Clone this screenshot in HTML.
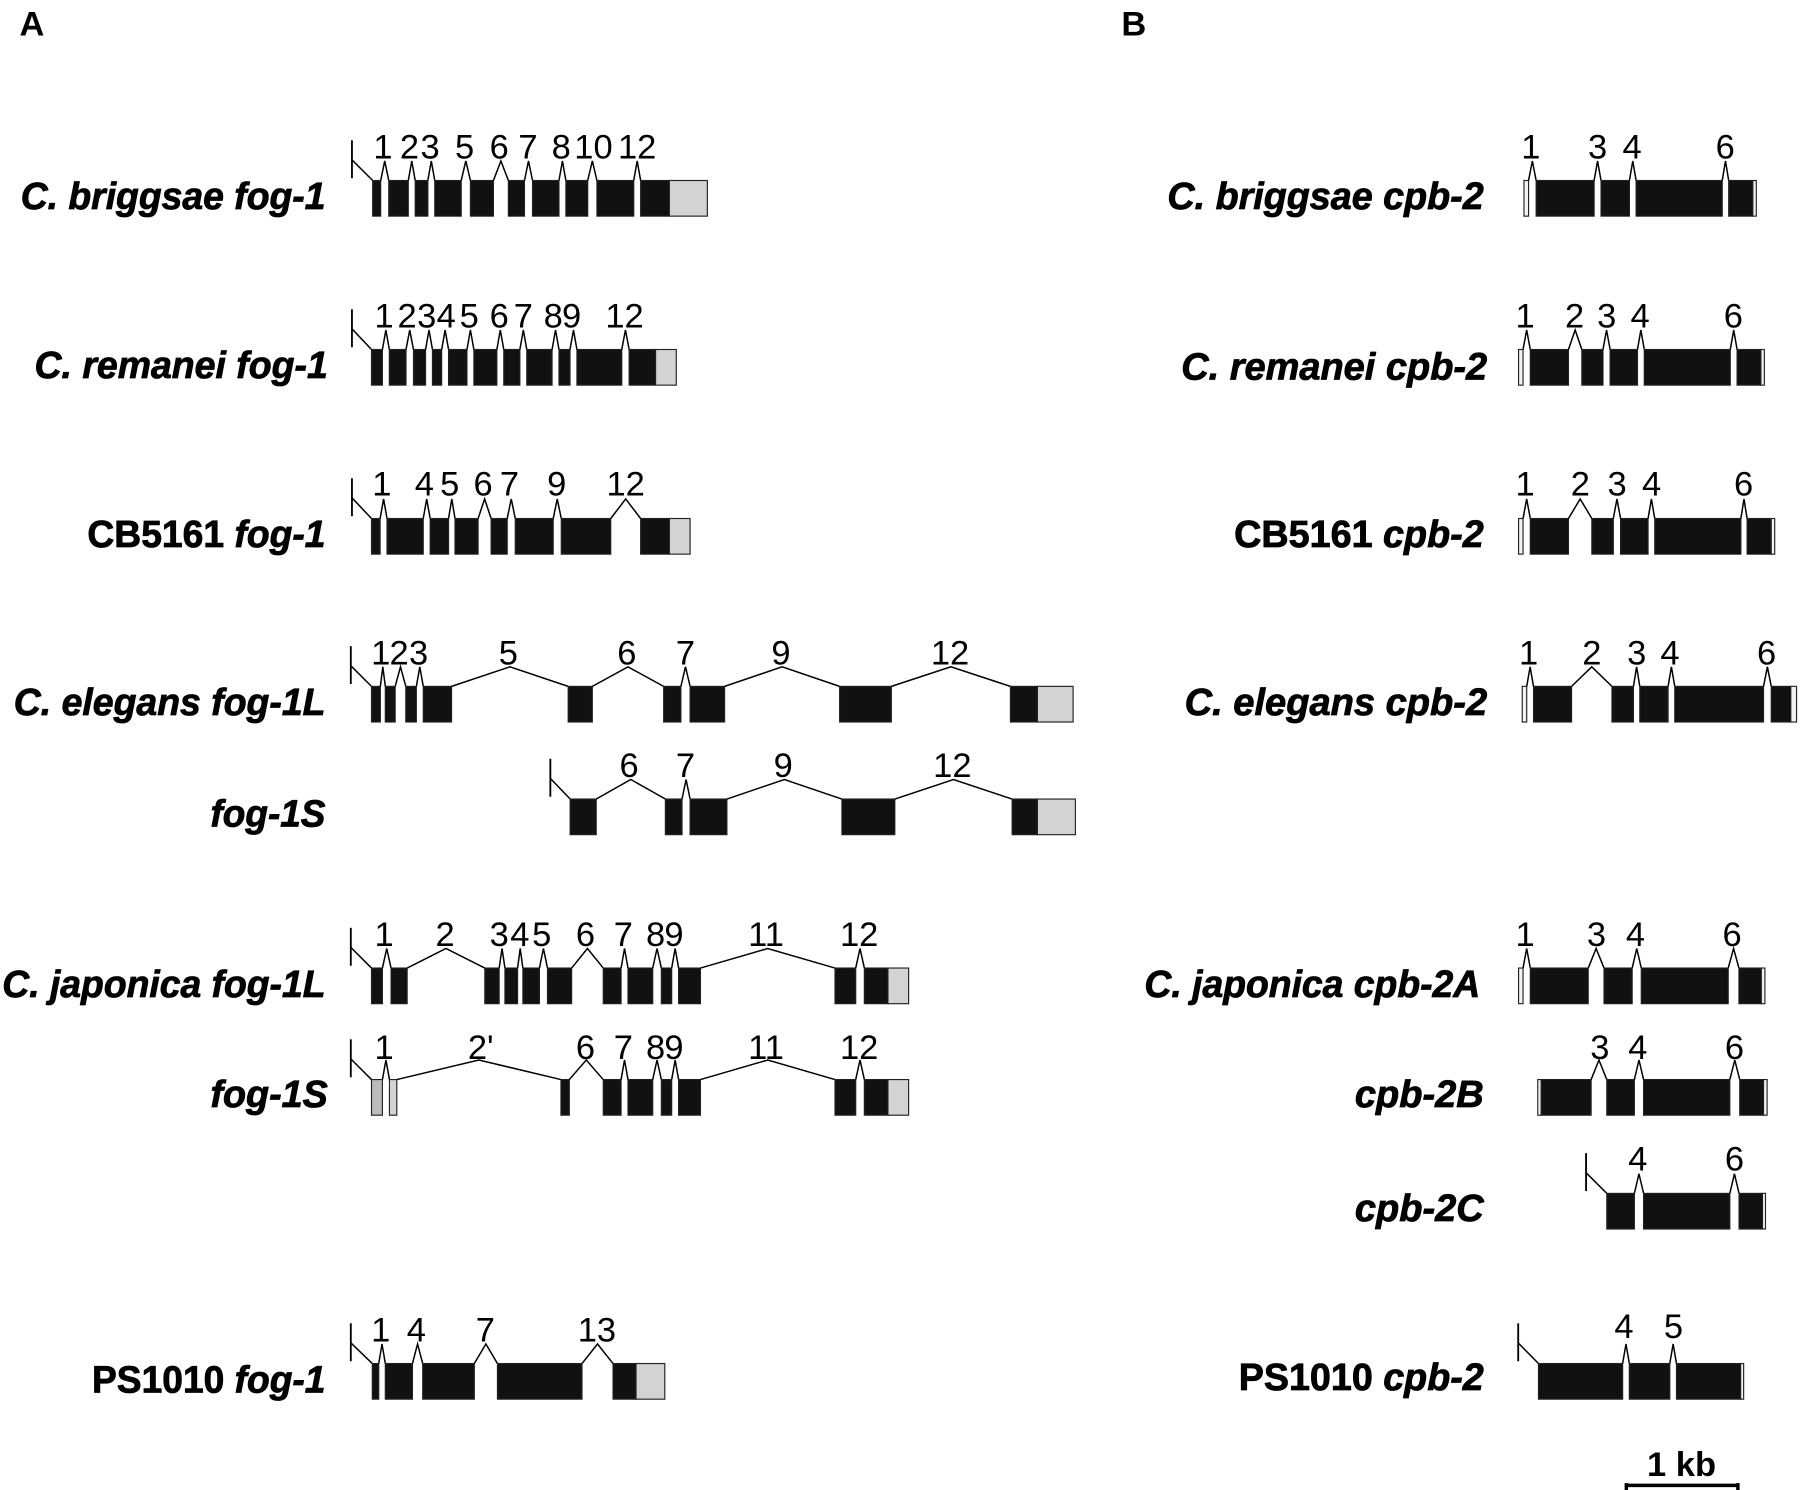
<!DOCTYPE html>
<html><head><meta charset="utf-8"><style>
html,body{margin:0;padding:0;background:#fff;}
svg{display:block;}
.n{font-family:"Liberation Sans",sans-serif;font-size:30px;text-anchor:middle;fill:#000;}
.g{font-family:"Liberation Sans",sans-serif;font-size:33px;font-weight:bold;text-anchor:end;fill:#000;stroke:#000;stroke-width:0.7;}
.i{font-style:italic;}
.p{font-family:"Liberation Sans",sans-serif;font-size:30px;font-weight:bold;fill:#000;}
</style></head><body>
<svg id="s" width="1800" height="1490" viewBox="0 0 1565 1296" preserveAspectRatio="none" xmlns="http://www.w3.org/2000/svg">
<text class="p" x="17" y="31">A</text>
<text class="p" x="975" y="31">B</text>

<text class="g i" x="283" y="182" textLength="265" lengthAdjust="spacingAndGlyphs">C. briggsae fog-1</text>
<text class="g i" x="285" y="329" textLength="255" lengthAdjust="spacingAndGlyphs">C. remanei fog-1</text>
<text class="g" x="283" y="476" textLength="207" lengthAdjust="spacingAndGlyphs">CB5161 <tspan class="i">fog-1</tspan></text>
<text class="g i" x="283" y="622" textLength="271" lengthAdjust="spacingAndGlyphs">C. elegans fog-1L</text>
<text class="g i" x="283" y="719" textLength="100" lengthAdjust="spacingAndGlyphs">fog-1S</text>
<text class="g i" x="283" y="867" textLength="281" lengthAdjust="spacingAndGlyphs">C. japonica fog-1L</text>
<text class="g i" x="285" y="963" textLength="102" lengthAdjust="spacingAndGlyphs">fog-1S</text>
<text class="g" x="283" y="1211" textLength="203" lengthAdjust="spacingAndGlyphs">PS1010 <tspan class="i">fog-1</tspan></text>

<text class="g i" x="1290" y="182" textLength="275" lengthAdjust="spacingAndGlyphs">C. briggsae cpb-2</text>
<text class="g i" x="1293" y="330" textLength="266" lengthAdjust="spacingAndGlyphs">C. remanei cpb-2</text>
<text class="g" x="1290" y="476" textLength="217" lengthAdjust="spacingAndGlyphs">CB5161 <tspan class="i">cpb-2</tspan></text>
<text class="g i" x="1293" y="622" textLength="263" lengthAdjust="spacingAndGlyphs">C. elegans cpb-2</text>
<text class="g i" x="1287" y="867" textLength="292" lengthAdjust="spacingAndGlyphs">C. japonica cpb-2A</text>
<text class="g i" x="1290" y="963" textLength="112" lengthAdjust="spacingAndGlyphs">cpb-2B</text>
<text class="g i" x="1290" y="1062" textLength="112" lengthAdjust="spacingAndGlyphs">cpb-2C</text>
<text class="g" x="1290" y="1209" textLength="213" lengthAdjust="spacingAndGlyphs">PS1010 <tspan class="i">cpb-2</tspan></text>

<text class="n" x="333" y="138">1</text><text class="n" x="356" y="138">2</text><text class="n" x="374" y="138">3</text><text class="n" x="404" y="138">5</text><text class="n" x="434" y="138">6</text><text class="n" x="459" y="138">7</text><text class="n" x="488" y="138">8</text><text class="n" x="516" y="138">10</text><text class="n" x="554" y="138">12</text>
<text class="n" x="334" y="285">1</text><text class="n" x="354" y="285">2</text><text class="n" x="371" y="285">3</text><text class="n" x="388" y="285">4</text><text class="n" x="408" y="285">5</text><text class="n" x="434" y="285">6</text><text class="n" x="455" y="285">7</text><text class="n" x="481" y="285">8</text><text class="n" x="497" y="285">9</text><text class="n" x="543" y="285">12</text>
<text class="n" x="332" y="431">1</text><text class="n" x="369" y="431">4</text><text class="n" x="391" y="431">5</text><text class="n" x="420" y="431">6</text><text class="n" x="443" y="431">7</text><text class="n" x="484" y="431">9</text><text class="n" x="544" y="431">12</text>
<text class="n" x="331" y="578">1</text><text class="n" x="347" y="578">2</text><text class="n" x="364" y="578">3</text><text class="n" x="442" y="578">5</text><text class="n" x="545" y="578">6</text><text class="n" x="596" y="578">7</text><text class="n" x="679" y="578">9</text><text class="n" x="826" y="578">12</text>
<text class="n" x="547" y="676">6</text><text class="n" x="596" y="676">7</text><text class="n" x="681" y="676">9</text><text class="n" x="828" y="676">12</text>
<text class="n" x="334" y="823">1</text><text class="n" x="387" y="823">2</text><text class="n" x="434" y="823">3</text><text class="n" x="452" y="823">4</text><text class="n" x="471" y="823">5</text><text class="n" x="509" y="823">6</text><text class="n" x="542" y="823">7</text><text class="n" x="570" y="823">8</text><text class="n" x="586" y="823">9</text><text class="n" x="666" y="823">11</text><text class="n" x="747" y="823">12</text>
<text class="n" x="334" y="921">1</text><text class="n" x="418" y="921">2'</text><text class="n" x="509" y="921">6</text><text class="n" x="542" y="921">7</text><text class="n" x="570" y="921">8</text><text class="n" x="586" y="921">9</text><text class="n" x="666" y="921">11</text><text class="n" x="747" y="921">12</text>
<text class="n" x="331" y="1167">1</text><text class="n" x="362" y="1167">4</text><text class="n" x="422" y="1167">7</text><text class="n" x="519" y="1167">13</text>

<text class="n" x="1331" y="138">1</text><text class="n" x="1389" y="138">3</text><text class="n" x="1419" y="138">4</text><text class="n" x="1500" y="138">6</text>
<text class="n" x="1326" y="285">1</text><text class="n" x="1369" y="285">2</text><text class="n" x="1397" y="285">3</text><text class="n" x="1426" y="285">4</text><text class="n" x="1507" y="285">6</text>
<text class="n" x="1326" y="431">1</text><text class="n" x="1374" y="431">2</text><text class="n" x="1406" y="431">3</text><text class="n" x="1436" y="431">4</text><text class="n" x="1516" y="431">6</text>
<text class="n" x="1329" y="578">1</text><text class="n" x="1384" y="578">2</text><text class="n" x="1423" y="578">3</text><text class="n" x="1452" y="578">4</text><text class="n" x="1536" y="578">6</text>
<text class="n" x="1326" y="823">1</text><text class="n" x="1388" y="823">3</text><text class="n" x="1422" y="823">4</text><text class="n" x="1506" y="823">6</text>
<text class="n" x="1391" y="921">3</text><text class="n" x="1424" y="921">4</text><text class="n" x="1508" y="921">6</text>
<text class="n" x="1424" y="1018">4</text><text class="n" x="1508" y="1018">6</text>
<text class="n" x="1412" y="1164">4</text><text class="n" x="1455" y="1164">5</text>

<text class="p" x="1462" y="1284" text-anchor="middle">1 kb</text>
<line x1="1413" y1="1292" x2="1512" y2="1292" stroke="#000" stroke-width="3"/>
<line x1="1414" y1="1290" x2="1414" y2="1300" stroke="#000" stroke-width="3"/>
<line x1="1511" y1="1290" x2="1511" y2="1300" stroke="#000" stroke-width="3"/>
<g id="gg"></g>
</svg>
<script>
var B='#111',G='#d3d3d3',W='#f2f2f2';
var rows=[
{t:157,tick:306,ex:[[[324,331]],[[338,355]],[[361,372]],[[378,401]],[[409,429]],[[442,456]],[[463,486]],[[492,511]],[[519,551]],[[557,582],[582,615,G]]]},
{t:304,tick:306,ex:[[[323,332.5]],[[338.5,353]],[[359.5,370]],[[376,384]],[[390,406]],[[412,432]],[[438,452]],[[458,480]],[[486,495.6]],[[501.6,540.6]],[[547,570],[570,588,G]]]},
{t:451,tick:306,ex:[[[323,330.5]],[[336.5,368]],[[374,390]],[[395.6,415.7]],[[427,441]],[[448,481]],[[488,531]],[[557,582],[582,600,G]]]},
{t:597,tick:305,ex:[[[323,330.7]],[[335,343.6]],[[352.8,362]],[[368,392.6]],[[494,515]],[[577,592]],[[600,630]],[[730,775]],[[878.5,902],[902,933,G]]]},
{t:695,tick:478.5,ex:[[[495.7,518.4]],[[578.5,593]],[[600,632]],[[732,778]],[[880,902],[902,935,G]]]},
{t:842,tick:305,ex:[[[323,332.5]],[[340,354]],[[421.5,434]],[[439,450]],[[454.6,469]],[[476,497]],[[524.5,540]],[[546,567.5]],[[575,584]],[[590,609]],[[726,744]],[[751.5,772],[772,790,G]]]},
{t:939,tick:305,ex:[[[323,332.5,'#bbb']],[[338.6,345,G]],[[487.7,495]],[[524.5,540]],[[546,567.5]],[[575,584]],[[590,609]],[[726,744]],[[751.5,772],[772,790,G]]]},
{t:1186,tick:305,ex:[[[323.7,329.3]],[[335,358.6]],[[367.5,412.4]],[[432.5,506]],[[533,553],[553,578,G]]]},
{t:157,ex:[[[1325,1329,W]],[[1335.6,1386]],[[1392,1416.7]],[[1422.5,1497.4]],[[1503,1524],[1524,1527,W]]]},
{t:304,ex:[[[1320.3,1324.2,W]],[[1330.5,1363.7]],[[1375.3,1393.7]],[[1399.9,1423.7]],[[1429.6,1504.4]],[[1510.3,1531],[1531,1534,W]]]},
{t:451,ex:[[[1320.3,1324.2,W]],[[1330.5,1363.7]],[[1384,1402.7]],[[1409,1432.9]],[[1438.7,1513.6]],[[1519,1540],[1540,1543,W]]]},
{t:597,ex:[[[1323.5,1327.4,W]],[[1333.3,1366.4]],[[1401.5,1420.2]],[[1425.7,1450.3]],[[1456.1,1533.3]],[[1540,1557],[1557,1562,W]]]},
{t:842,ex:[[[1320.3,1324.2,W]],[[1330.5,1380.9]],[[1394.6,1419.1]],[[1427,1502.6]],[[1511.9,1531.4],[1531.4,1534.5,W]]]},
{t:939,ex:[[[1337,1340,W],[1340,1383.4]],[[1397,1421]],[[1429,1504]],[[1512.6,1533.3],[1533.3,1536.4,W]]]},
{t:1038,tick:1379,ex:[[[1397,1421]],[[1429,1504]],[[1512,1532.4],[1532.4,1535,W]]]},
{t:1186,tick:1320,ex:[[[1337.6,1410.8]],[[1416.6,1451.8]],[[1457.6,1513.4],[1513.4,1516,W]]]}
];
var ns='http://www.w3.org/2000/svg',g=document.getElementById('gg');
function el(n,a){var e=document.createElementNS(ns,n);for(var k in a)e.setAttribute(k,a[k]);g.appendChild(e);return e;}
rows.forEach(function(r){
 var t=r.t,h=31,pk=t-17;
 if(r.tick){el('line',{x1:r.tick,y1:t-35,x2:r.tick,y2:t-2,stroke:'#000','stroke-width':1.6});
  el('line',{x1:r.tick,y1:t-18,x2:r.ex[0][0][0],y2:t,stroke:'#000','stroke-width':1.3});}
 for(var i=0;i<r.ex.length;i++){
  var e=r.ex[i];
  e.forEach(function(s){el('rect',{x:s[0],y:t,width:s[1]-s[0],height:h,fill:s[2]||B,stroke:'#222','stroke-width':1});});
  if(i<r.ex.length-1){var a=e[e.length-1][1],b=r.ex[i+1][0][0];
   el('polyline',{points:a+','+t+' '+((a+b)/2)+','+pk+' '+b+','+t,fill:'none',stroke:'#000','stroke-width':1.3});}
 }
});
</script>
</body></html>
